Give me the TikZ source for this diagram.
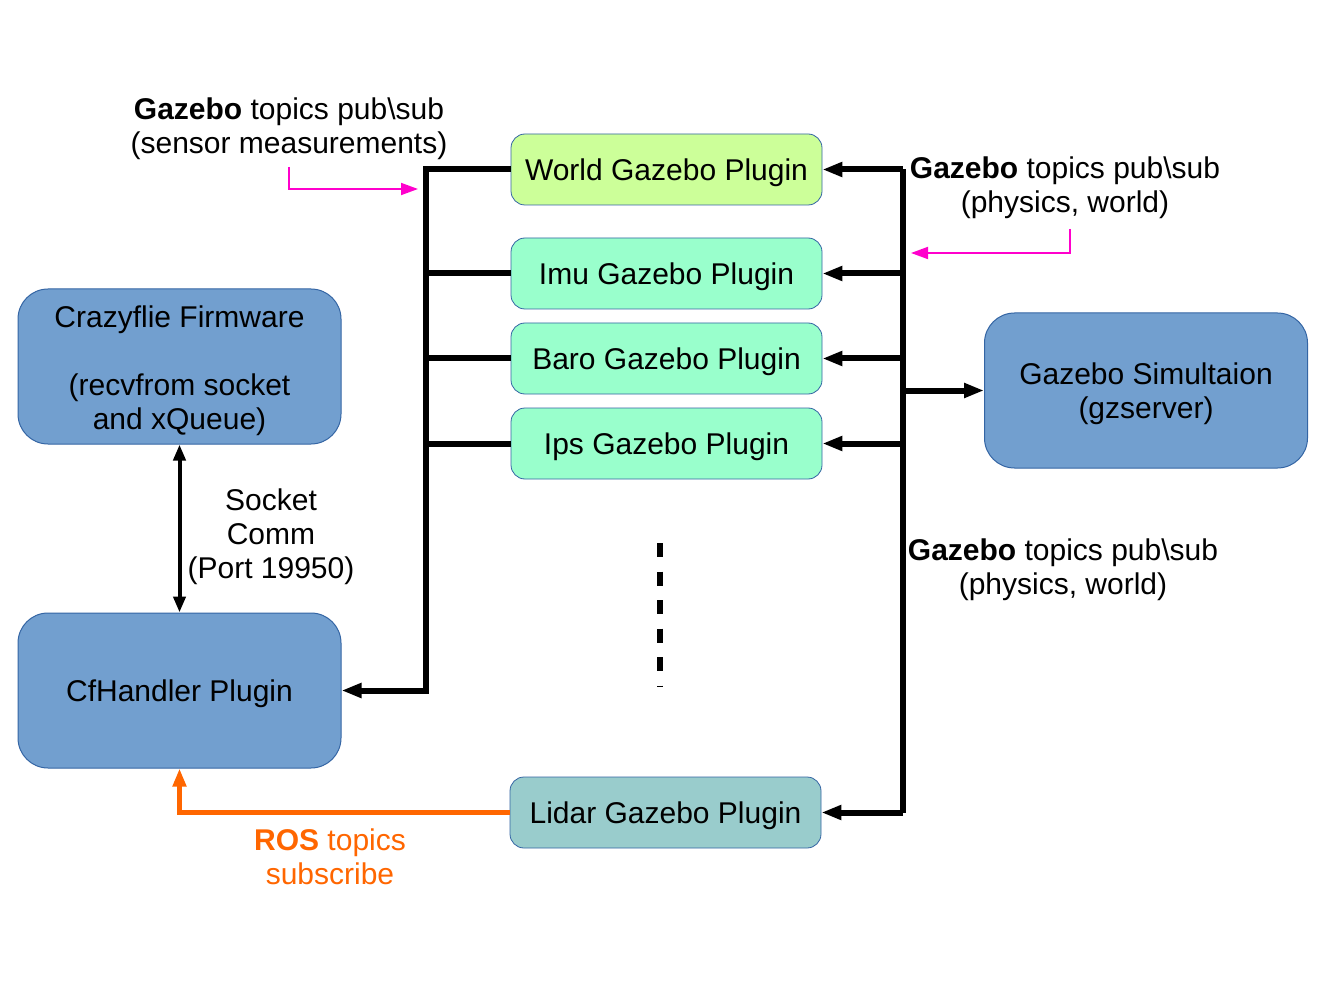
\documentclass[tikz,border=0pt]{standalone}
\usepackage{fontspec}
\setmainfont{Liberation Sans}
\usetikzlibrary{arrows.meta}
\definecolor{boxblue}{HTML}{729FCF}
\definecolor{edgeblue}{HTML}{3465A4}
\definecolor{worldgreen}{HTML}{CCFF99}
\definecolor{plugmint}{HTML}{99FFCC}
\definecolor{lidarteal}{HTML}{99CCCC}
\definecolor{pinkarrow}{HTML}{FF00CC}
\definecolor{rosorange}{HTML}{FF6600}
\tikzset{
  txt/.style={font=\fontsize{30}{34}\selectfont, align=center, inner sep=0pt,
    execute at begin node={\rule{0pt}{0.95em}},
    execute at end node={\rule[-0.212em]{0pt}{0.212em}}},
  bigbox/.style={txt, draw=edgeblue, line width=1pt, fill=boxblue, rounded corners=30pt, minimum width=323pt, minimum height=155pt},
  plugbox/.style={txt, draw=edgeblue, line width=0.8pt, rounded corners=14pt, minimum width=311pt, minimum height=71pt},
  bus/.style={line width=6pt, line join=miter},
  busarrow/.style={bus, -{Triangle[length=20pt,width=14pt]}},
  pinkline/.style={pinkarrow, line width=1.8pt, -{Triangle[length=17pt,width=12pt]}},
  rosline/.style={rosorange, line width=5pt, line join=miter, -{Triangle[length=18pt,width=13pt]}},
  dbl/.style={line width=4pt, {Triangle[length=16pt,width=12pt]}-{Triangle[length=16pt,width=12pt]}},
  dotted bus/.style={line width=6pt, dash pattern=on 14pt off 14.5pt}
}
\begin{document}
\begin{tikzpicture}[x=1pt,y=-1pt]
\useasboundingbox (0,0) rectangle (1323,992);
\fill[white] (0,0) rectangle (1323,992);

% big boxes
\node[bigbox] (fw) at (179.5,366.5) {};
\node[txt] (fwtext) at (179.5,370.5) {Crazyflie Firmware\\[34pt](recvfrom socket\\and xQueue)};
\node[bigbox] (cf) at (179.5,690.5) {CfHandler Plugin};
\node[bigbox] (gz) at (1146,390.5) {};
\node[txt] (gztext) at (1146,393.5) {Gazebo Simultaion\\(gzserver)};

% plugin boxes
\node[plugbox, fill=worldgreen] (world) at (666.5,169.5) {World Gazebo Plugin};
\node[plugbox, fill=plugmint] (imu) at (666.5,273.5) {Imu Gazebo Plugin};
\node[plugbox, fill=plugmint] (baro) at (666.5,358.5) {Baro Gazebo Plugin};
\node[plugbox, fill=plugmint] (ips) at (666.5,443.5) {Ips Gazebo Plugin};
\node[plugbox, fill=lidarteal] (lidar) at (665.5,812.5) {Lidar Gazebo Plugin};

% bus coordinates
\coordinate (lt) at (426,169.5);
\coordinate (rt) at (903,169.5);
\coordinate (rb) at (903,812.5);

% left bus
\draw[busarrow] (world.west) -- (lt) |- (cf.east);
\draw[bus] (imu.west) -- (imu.west -| lt);
\draw[bus] (baro.west) -- (baro.west -| lt);
\draw[bus] (ips.west) -- (ips.west -| lt);

% right bus
\draw[bus] (rt) -- (rb);
\draw[busarrow] (rt) -- (world.east);
\draw[busarrow] (imu.east -| rt) -- (imu.east);
\draw[busarrow] (baro.east -| rt) -- (baro.east);
\draw[busarrow] (ips.east -| rt) -- (ips.east);
\draw[busarrow] (rb) -- (lidar.east);
\draw[busarrow] (gz.west -| rt) -- (gz.west);

% socket double arrow
\draw[dbl] (fw.south) -- (cf.north);
\node[txt] (sock) at (271,536.5) {Socket\\Comm\\(Port 19950)};

% dashed ellipsis
\coordinate (dtop) at (660,543);
\coordinate (dbot) at (660,687);
\draw[dotted bus] (dtop) -- (dbot);

% ROS orange
\draw[rosline] (lidar.west) -| (cf.south);
\node[txt, text=rosorange] (ros) at (330,859.5) {\textbf{ROS} topics\\subscribe};

% labels
\node[txt] (lbl1) at (289,128.5) {\textbf{Gazebo} topics pub\textbackslash sub\\(sensor measurements)};
\node[txt] (lbl2) at (1065,188) {\textbf{Gazebo} topics pub\textbackslash sub\\(physics, world)};
\node[txt] (lbl3) at (1063,570) {\textbf{Gazebo} topics pub\textbackslash sub\\(physics, world)};

% pink arrows
\coordinate (p1a) at (289,167);
\coordinate (p1b) at (418,189);
\draw[pinkline] (p1a) |- (p1b);
\coordinate (p2a) at (1070,229);
\coordinate (p2b) at (911,253);
\draw[pinkline] (p2a) |- (p2b);
\end{tikzpicture}
\end{document}
